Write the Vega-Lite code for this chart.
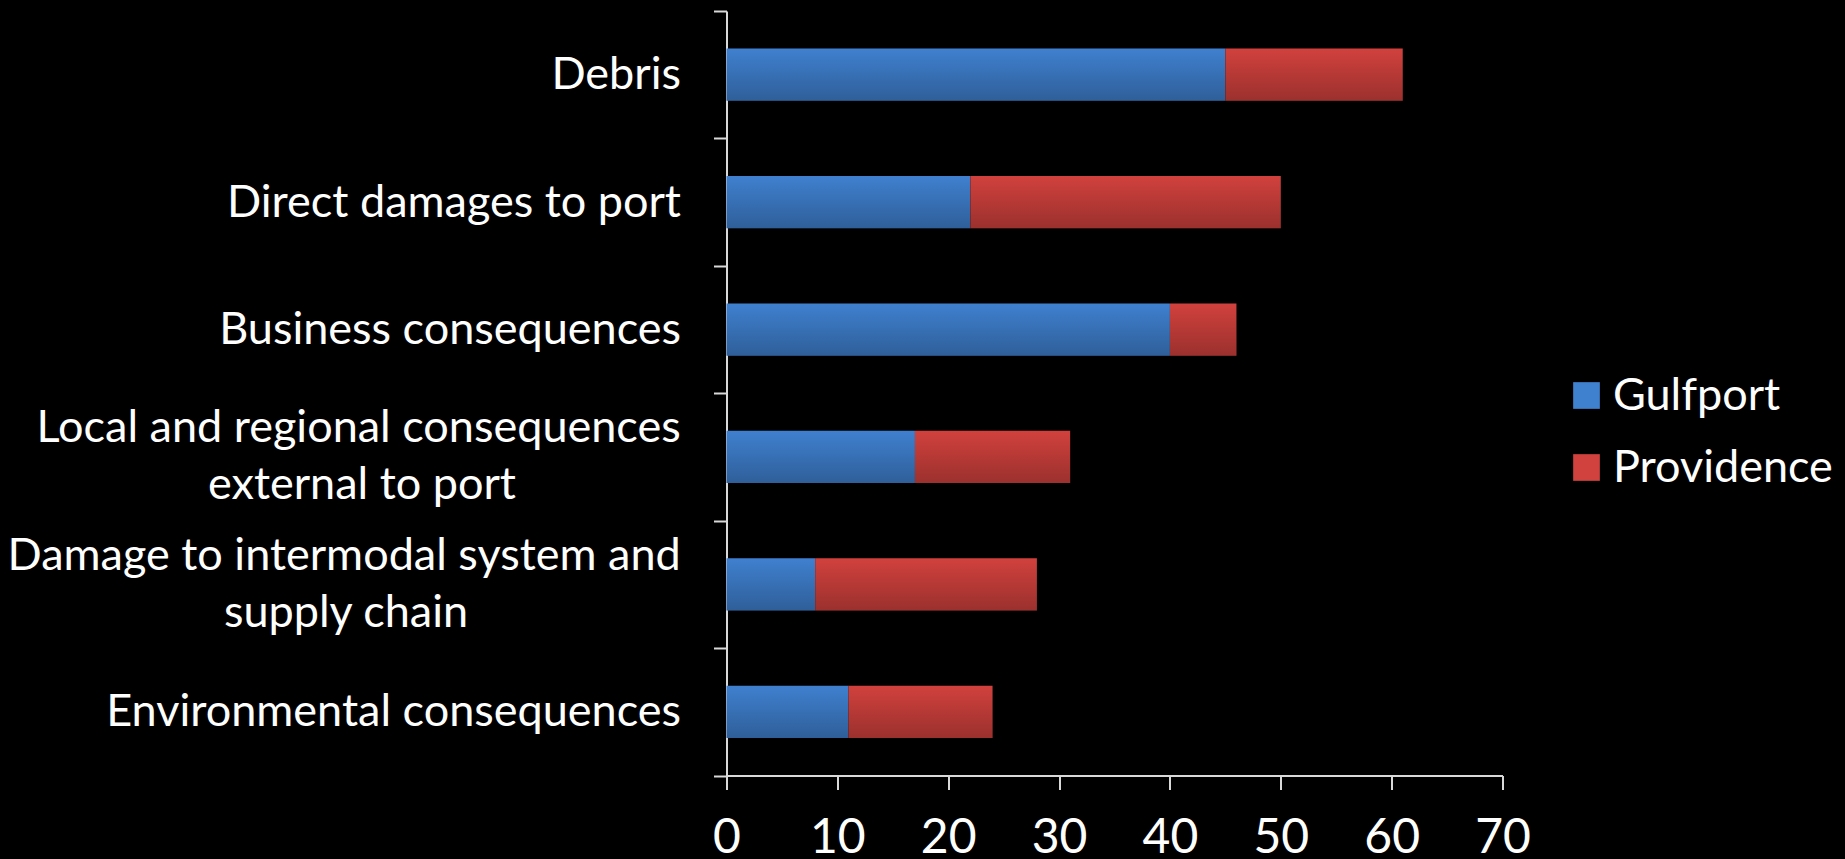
{
  "$schema": "https://vega.github.io/schema/vega-lite/v6.json",
  "autosize": {"type": "none"},
  "width": 776,
  "height": 764.5,
  "padding": {"left": 726.5, "top": 11, "right": 342.5, "bottom": 83.5},
  "background": "#000000",
  "config": {"view": {"stroke": null}, "font": "Lato"},
  "data": {
    "values": [
      {"category": "Debris", "series": "Gulfport", "value": 45},
      {"category": "Debris", "series": "Providence", "value": 16},
      {"category": "Direct damages to port", "series": "Gulfport", "value": 22},
      {"category": "Direct damages to port", "series": "Providence", "value": 28},
      {"category": "Business consequences", "series": "Gulfport", "value": 40},
      {"category": "Business consequences", "series": "Providence", "value": 6},
      {"category": "Local and regional consequences external to port", "series": "Gulfport", "value": 17},
      {"category": "Local and regional consequences external to port", "series": "Providence", "value": 14},
      {"category": "Damage to intermodal system and supply chain", "series": "Gulfport", "value": 8},
      {"category": "Damage to intermodal system and supply chain", "series": "Providence", "value": 20},
      {"category": "Environmental consequences", "series": "Gulfport", "value": 11},
      {"category": "Environmental consequences", "series": "Providence", "value": 13}
    ]
  },
  "layer": [
    {
      "mark": {"type": "bar", "height": {"band": 0.41}},
      "encoding": {
        "y": {
          "field": "category",
          "type": "nominal",
          "sort": [
            "Debris",
            "Direct damages to port",
            "Business consequences",
            "Local and regional consequences external to port",
            "Damage to intermodal system and supply chain",
            "Environmental consequences"
          ],
          "scale": {"paddingInner": 0, "paddingOuter": 0},
          "axis": {
            "title": null,
            "tickBand": "extent",
            "tickSize": 13,
            "tickWidth": 2,
            "tickColor": "#d9d9d9",
            "domainColor": "#d9d9d9",
            "domainWidth": 2,
            "labelFont": "Lato",
            "labelFontSize": 45,
            "labelColor": "#ffffff",
            "labelLimit": 1000,
            "labelPadding": 33,
            "labelExpr": "datum.value === 'Local and regional consequences external to port' || datum.value === 'Damage to intermodal system and supply chain' ? '' : datum.value"
          }
        },
        "x": {
          "field": "value",
          "type": "quantitative",
          "stack": "zero",
          "scale": {"domain": [0, 70]},
          "axis": {
            "title": null,
            "grid": false,
            "values": [0, 10, 20, 30, 40, 50, 60, 70],
            "tickSize": 14,
            "tickWidth": 2,
            "tickColor": "#d9d9d9",
            "domainColor": "#d9d9d9",
            "domainWidth": 2,
            "labelFont": "Lato",
            "labelFontSize": 48,
            "labelColor": "#ffffff",
            "labelPadding": 25,
            "labelFlush": false,
            "labelOverlap": false
          }
        },
        "color": {
          "field": "series",
          "type": "nominal",
          "scale": {"domain": ["Gulfport", "Providence"], "range": ["#3f80cf", "#d1413d"]},
          "legend": {
            "title": null,
            "orient": "none",
            "legendX": 837.5,
            "legendY": 362,
            "symbolType": "square",
            "symbolSize": 713,
            "symbolStrokeWidth": 0,
            "labelFont": "Lato",
            "labelFontSize": 45,
            "labelColor": "#ffffff",
            "labelLimit": 500,
            "labelOffset": 4,
            "rowPadding": 26
          }
        }
      }
    },
    {
      "mark": {
        "type": "bar",
        "height": {"band": 0.41},
        "fill": {
          "gradient": "linear",
          "x1": 0, "y1": 0, "x2": 0, "y2": 1,
          "stops": [
            {"offset": 0, "color": "rgba(0,0,0,0)"},
            {"offset": 1, "color": "rgba(0,0,0,0.26)"}
          ]
        }
      },
      "encoding": {
        "y": {
          "field": "category",
          "type": "nominal",
          "sort": [
            "Debris",
            "Direct damages to port",
            "Business consequences",
            "Local and regional consequences external to port",
            "Damage to intermodal system and supply chain",
            "Environmental consequences"
          ]
        },
        "x": {"field": "value", "type": "quantitative", "stack": "zero"},
        "detail": {"field": "series"}
      }
    },
    {
      "data": {
        "values": [
          {"category": "Local and regional consequences external to port", "line": "Local and regional consequences"},
          {"category": "Damage to intermodal system and supply chain", "line": "Damage to intermodal system and"}
        ]
      },
      "mark": {
        "type": "text",
        "align": "right",
        "baseline": "middle",
        "font": "Lato",
        "fontSize": 45,
        "color": "#ffffff",
        "dx": -45.8,
        "dy": -28.5
      },
      "encoding": {
        "y": {
          "field": "category",
          "type": "nominal",
          "sort": [
            "Debris",
            "Direct damages to port",
            "Business consequences",
            "Local and regional consequences external to port",
            "Damage to intermodal system and supply chain",
            "Environmental consequences"
          ]
        },
        "x": {"datum": 0, "type": "quantitative"},
        "text": {"field": "line"}
      }
    },
    {
      "data": {
        "values": [
          {"category": "Local and regional consequences external to port", "line": "external to port"}
        ]
      },
      "mark": {
        "type": "text",
        "align": "center",
        "baseline": "middle",
        "font": "Lato",
        "fontSize": 45,
        "color": "#ffffff",
        "dx": -364.5,
        "dy": 28.5
      },
      "encoding": {
        "y": {
          "field": "category",
          "type": "nominal",
          "sort": [
            "Debris",
            "Direct damages to port",
            "Business consequences",
            "Local and regional consequences external to port",
            "Damage to intermodal system and supply chain",
            "Environmental consequences"
          ]
        },
        "x": {"datum": 0, "type": "quantitative"},
        "text": {"field": "line"}
      }
    },
    {
      "data": {
        "values": [
          {"category": "Damage to intermodal system and supply chain", "line": "supply chain"}
        ]
      },
      "mark": {
        "type": "text",
        "align": "center",
        "baseline": "middle",
        "font": "Lato",
        "fontSize": 45,
        "color": "#ffffff",
        "dx": -380.5,
        "dy": 28.5
      },
      "encoding": {
        "y": {
          "field": "category",
          "type": "nominal",
          "sort": [
            "Debris",
            "Direct damages to port",
            "Business consequences",
            "Local and regional consequences external to port",
            "Damage to intermodal system and supply chain",
            "Environmental consequences"
          ]
        },
        "x": {"datum": 0, "type": "quantitative"},
        "text": {"field": "line"}
      }
    }
  ]
}
